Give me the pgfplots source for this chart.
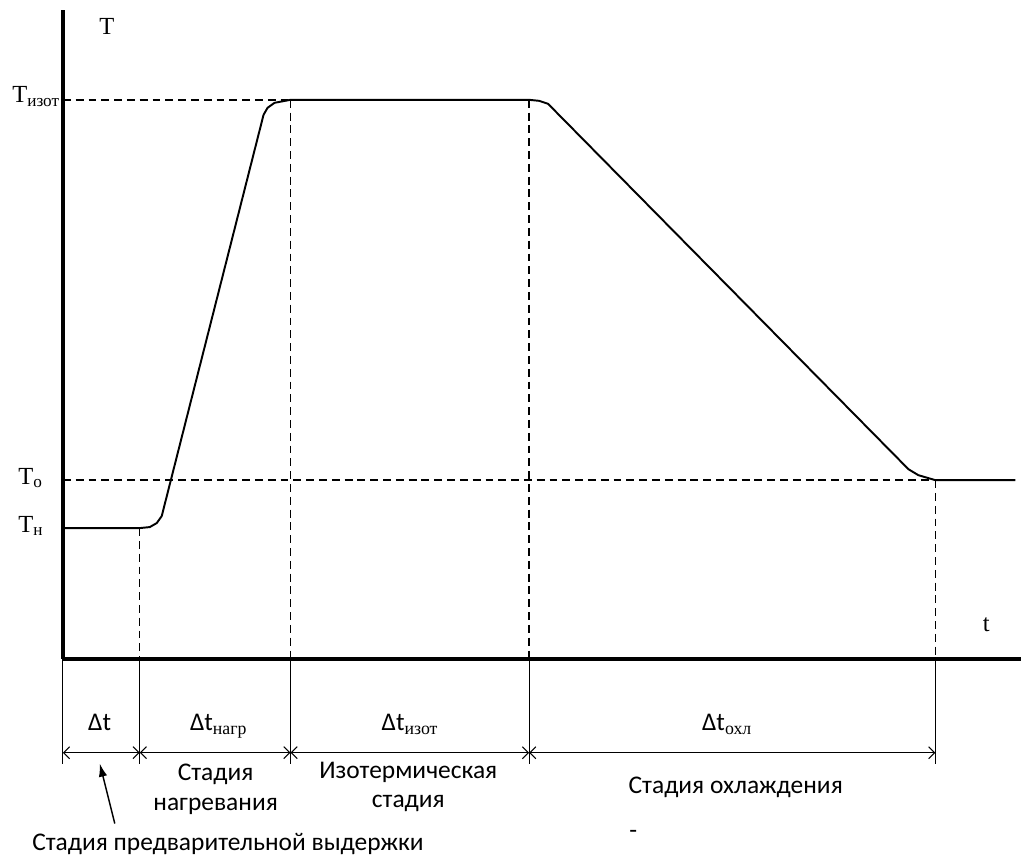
\documentclass[border=0pt]{standalone}
\usepackage{pgfplots}
\pgfplotsset{compat=1.18}
\usetikzlibrary{arrows.meta}
\usepackage{fontspec}
\setmainfont{Liberation Serif}
\newfontfamily\calfont{Carlito}
\newcommand\fs{\fontsize{14.5}{17}\selectfont}
\newcommand\fsr{\fontsize{14}{17}\selectfont}
\begin{document}
\begin{tikzpicture}
\begin{axis}[
  scale only axis,
  width=19.2cm, height=13cm,
  xmin=63, xmax=1023, ymin=196, ymax=846,
  axis x line=bottom, axis y line=left,
  axis line style={-, line width=2pt},
  ticks=none,
  clip=false,
  ]
  % frame of the whole picture
  \path (axis cs:0,0) rectangle (axis cs:1023,856);

  % temperature curve
  \addplot[black, line width=1.1pt, line join=round] coordinates {
    (63,327) (140,327) (150,328) (157,332) (162,339)
    (264,741) (268,748) (275,753) (291,756)
    (530,756) (540,755) (549,752)
    (910,386) (920,380) (937,375) (1017,375)
  };

  % dashed guides
  \addplot[black, line width=0.8pt, dash pattern=on 4.5pt off 2.8pt] coordinates {(63,756) (291,756)};
  \addplot[black, line width=0.8pt, dash pattern=on 4.5pt off 2.8pt] coordinates {(63,375) (937,375)};
  \addplot[black, line width=0.8pt, dash pattern=on 4.5pt off 2.8pt] coordinates {(140,327) (140,196)};
  \addplot[black, line width=0.8pt, dash pattern=on 4.5pt off 2.8pt] coordinates {(291,756) (291,196)};
  \addplot[black, line width=0.8pt, dash pattern=on 4.5pt off 2.8pt] coordinates {(530,756) (530,196)};
  \addplot[black, line width=0.8pt, dash pattern=on 4.5pt off 2.8pt] coordinates {(937,375) (937,196)};

  % extension lines under the axis
  \addplot[black, line width=0.6pt] coordinates {(63,196) (63,91)};
  \addplot[black, line width=0.6pt] coordinates {(140,196) (140,91)};
  \addplot[black, line width=0.6pt] coordinates {(291,196) (291,91)};
  \addplot[black, line width=0.6pt] coordinates {(530,196) (530,91)};
  \addplot[black, line width=0.6pt] coordinates {(937,196) (937,91)};

  % dimension lines
  \addplot[black, line width=0.6pt, {Straight Barb[length=1.2mm, width=2.4mm]}-{Straight Barb[length=1.2mm, width=2.4mm]}] coordinates {(63,102) (140,102)};
  \addplot[black, line width=0.6pt, {Straight Barb[length=1.2mm, width=2.4mm]}-{Straight Barb[length=1.2mm, width=2.4mm]}] coordinates {(140,102) (291,102)};
  \addplot[black, line width=0.6pt, {Straight Barb[length=1.2mm, width=2.4mm]}-{Straight Barb[length=1.2mm, width=2.4mm]}] coordinates {(291,102) (530,102)};
  \addplot[black, line width=0.6pt, {Straight Barb[length=1.2mm, width=2.4mm]}-{Straight Barb[length=1.2mm, width=2.4mm]}] coordinates {(530,102) (937,102)};

  % pointer
  \addplot[black, line width=0.8pt, -{Latex[length=2.6mm, width=1.7mm]}] coordinates {(115,31) (100,91)};

  % axis texts
  \node[anchor=base, font=\fsr] at (axis cs:107,821) {T};
  \node[anchor=base, font=\fsr] at (axis cs:988,223) {t};
  \node[anchor=base west, inner sep=0pt, font=\fsr] at (axis cs:12,753) {T\textsubscript{изот}};
  \node[anchor=base west, inner sep=0pt, font=\fsr] at (axis cs:18,371) {T\textsubscript{о}};
  \node[anchor=base west, inner sep=0pt, font=\fsr] at (axis cs:18,323) {T\textsubscript{н}};

  % interval texts
  \node[anchor=base west, inner sep=0pt, font=\fs] at (axis cs:88,124) {{\calfont Δt}};
  \node[anchor=base west, inner sep=0pt, font=\fs] at (axis cs:190,124) {{\calfont Δt}\textsubscript{нагр}};
  \node[anchor=base west, inner sep=0pt, font=\fs] at (axis cs:382,124) {{\calfont Δt}\textsubscript{изот}};
  \node[anchor=base west, inner sep=0pt, font=\fs] at (axis cs:703,124) {{\calfont Δt}\textsubscript{охл}};

  % stage texts
  \node[anchor=base, font=\calfont\fs] at (axis cs:216,74) {Стадия};
  \node[anchor=base, font=\calfont\fs] at (axis cs:216,44) {нагревания};
  \node[anchor=base, font=\calfont\fs] at (axis cs:409,76) {Изотермическая};
  \node[anchor=base, font=\calfont\fs] at (axis cs:409,47) {стадия};
  \node[anchor=base, font=\calfont\fs] at (axis cs:737,61) {Стадия охлаждения};
  \node[anchor=base west, inner sep=0pt, font=\calfont\fs] at (axis cs:630,16) {-};
  \node[anchor=base west, inner sep=0pt, font=\calfont\fs] at (axis cs:32,4) {Стадия предварительной выдержки};
\end{axis}
\end{tikzpicture}
\end{document}
